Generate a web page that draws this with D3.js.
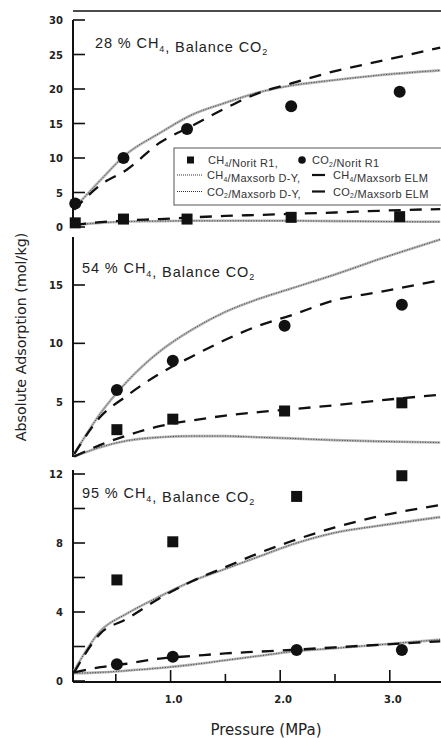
<!DOCTYPE html>
<html>
<head>
<meta charset="utf-8">
<script src="https://cdn.jsdelivr.net/npm/d3@7"></script>
<style>
  body { margin: 0; background: #fff; }
  svg { display: block; font-family: "Liberation Sans", Arial, sans-serif; }
  .tick-label { font-family: "DejaVu Sans", sans-serif; font-size: 10px; font-weight: bold; fill: #222; }
</style>
</head>
<body>
<svg width="441" height="738"></svg>
<script>
// pressure grid used for the model curves (MPa)
var pGrid = [0.12, 0.36, 0.6, 0.9, 1.2, 1.5, 1.8, 2.1, 2.5, 2.9, 3.46];

// 28 % CH4
var p28 = [0.13, 0.57, 1.15, 2.10, 3.09];
var ch4Norit28 = [0.6, 1.15, 1.15, 1.4, 1.5];
var co2Norit28 = [3.4, 10.0, 14.2, 17.5, 19.6];
var ch4Elm28 = [0.3, 0.7, 0.95, 1.15, 1.4, 1.6, 1.75, 1.9, 2.1, 2.35, 2.6];
var ch4Dy28 = [0.3, 0.6, 0.8, 0.85, 0.9, 0.9, 0.9, 0.9, 0.85, 0.8, 0.75];
var co2Elm28 = [2.5, 6.1, 8.3, 12.2, 14.7, 17.2, 19.4, 20.8, 22.6, 24.0, 26.0];
var co2Dy28 = [2.7, 6.8, 10.6, 13.6, 16.3, 18.0, 19.5, 20.5, 21.3, 22.0, 22.7];

// 54 % CH4
var p54 = [0.51, 1.02, 2.04, 3.11];
var ch4Norit54 = [2.6, 3.5, 4.2, 4.9];
var co2Norit54 = [6.0, 8.5, 11.5, 13.3];
var ch4Elm54 = [0.3, 1.3, 2.1, 2.9, 3.4, 3.8, 4.1, 4.35, 4.7, 5.1, 5.6];
var ch4Dy54 = [0.3, 1.1, 1.65, 1.95, 2.05, 2.05, 1.95, 1.85, 1.7, 1.6, 1.5];
var co2Elm54 = [0.5, 3.7, 5.5, 7.4, 8.9, 10.3, 11.5, 12.4, 13.7, 14.4, 15.4];
var co2Dy54 = [0.5, 4.0, 6.7, 9.3, 11.2, 12.7, 13.8, 14.7, 15.9, 17.2, 18.9];

// 95 % CH4
var p95 = [0.51, 1.02, 2.15, 3.11];
var ch4Norit95 = [5.86, 8.07, 10.7, 11.9];
var co2Norit95 = [0.97, 1.41, 1.8, 1.8];
var ch4Elm95 = [0.5, 2.76, 3.6, 4.8, 5.8, 6.6, 7.4, 8.1, 8.9, 9.55, 10.2];
var ch4Dy95 = [0.6, 2.9, 3.9, 4.9, 5.8, 6.5, 7.2, 7.9, 8.6, 9.0, 9.5];
var co2Elm95 = [0.5, 0.8, 1.0, 1.3, 1.45, 1.6, 1.7, 1.8, 1.95, 2.1, 2.3];
var co2Dy95 = [0.45, 0.5, 0.6, 0.75, 0.95, 1.2, 1.45, 1.7, 1.9, 2.1, 2.4];

var xTicksMajor = [1, 2, 3];
var xTicksMinor = [0.5, 1.5, 2.5];
var xTickLabels = ["1.0", "2.0", "3.0"];

var svg = d3.select("svg");
var x = d3.scaleLinear().domain([0, 3.5]).range([61, 444.6]);
var axisX = 73;

var panels = [
  { pct: "28", top: 20, bottom: 227, max: 30, axTop: 20, axBottom: 228,
    ticks: [0, 5, 10, 15, 20, 25, 30], labels: [0, 5, 10, 15, 20, 25, 30],
    titleX: 95, titleY: 48,
    pts: p28, ch4: ch4Norit28, co2: co2Norit28,
    ch4Elm: ch4Elm28, ch4Dy: ch4Dy28, co2Elm: co2Elm28, co2Dy: co2Dy28 },
  { pct: "54", top: 285, bottom: 460, max: 15, axTop: 237, axBottom: 457,
    ticks: [5, 10, 15], labels: [5, 10, 15],
    titleX: 82, titleY: 273,
    pts: p54, ch4: ch4Norit54, co2: co2Norit54,
    ch4Elm: ch4Elm54, ch4Dy: ch4Dy54, co2Elm: co2Elm54, co2Dy: co2Dy54 },
  { pct: "95", top: 474, bottom: 681, max: 12, axTop: 470, axBottom: 682,
    ticks: [0, 2, 4, 6, 8, 10, 12], labels: [0, 4, 8, 12],
    titleX: 82, titleY: 498,
    pts: p95, ch4: ch4Norit95, co2: co2Norit95,
    ch4Elm: ch4Elm95, ch4Dy: ch4Dy95, co2Elm: co2Elm95, co2Dy: co2Dy95 }
];

function subText(g, parts, size) {
  // parts: [text, subscript] pairs
  parts.forEach(function (pt) {
    g.append("tspan").text(pt[0]).attr("font-size", size).attr("dy", 0);
    if (pt[1]) {
      g.append("tspan").text(pt[1]).attr("font-size", size * 0.62).attr("dy", size * 0.25);
      g.append("tspan").text("").attr("dy", -size * 0.25);
    }
  });
}

function drawDy(g, line, vals) {
  g.append("path").datum(vals).attr("d", line)
    .attr("fill", "none").attr("stroke", "#b4b4b4").attr("stroke-width", 2.6);
  g.append("path").datum(vals).attr("d", line)
    .attr("fill", "none").attr("stroke", "#333").attr("stroke-width", 0.9)
    .attr("stroke-dasharray", "1,1.6");
}

function drawElm(g, line, vals) {
  g.append("path").datum(vals).attr("d", line)
    .attr("fill", "none").attr("stroke", "#111").attr("stroke-width", 2.3)
    .attr("stroke-dasharray", "12,9");
}

panels.forEach(function (pn) {
  var y = d3.scaleLinear().domain([0, pn.max]).range([pn.bottom, pn.top]);
  var g = svg.append("g");
  var line = d3.line()
    .x(function (d, i) { return x(pGrid[i]); })
    .y(function (d) { return y(d); })
    .curve(d3.curveMonotoneX);

  // left axis
  g.append("line").attr("x1", axisX).attr("x2", axisX)
    .attr("y1", pn.axTop).attr("y2", pn.axBottom)
    .attr("stroke", "#111").attr("stroke-width", 2);
  g.selectAll(".yt").data(pn.ticks).enter().append("line")
    .attr("x1", axisX).attr("x2", axisX + 12)
    .attr("y1", function (d) { return y(d); }).attr("y2", function (d) { return y(d); })
    .attr("stroke", "#111").attr("stroke-width", 1.6);
  g.selectAll(".yl").data(pn.labels).enter().append("text")
    .attr("class", "tick-label")
    .attr("x", 63).attr("y", function (d) { return y(d) + 4; })
    .attr("text-anchor", "end").text(function (d) { return d; });

  // title
  var t = g.append("text").attr("x", pn.titleX).attr("y", pn.titleY).attr("fill", "#222")
    .attr("letter-spacing", 0.9);
  subText(t, [[pn.pct + " % CH", "4"], [", Balance CO", "2"]], 14.5);

  // model curves
  drawDy(g, line, pn.ch4Dy);
  drawDy(g, line, pn.co2Dy);
  drawElm(g, line, pn.ch4Elm);
  drawElm(g, line, pn.co2Elm);

  // measurements
  g.selectAll(".sq").data(pn.ch4).enter().append("rect")
    .attr("x", function (d, i) { return x(pn.pts[i]) - 5.5; })
    .attr("y", function (d) { return y(d) - 5.5; })
    .attr("width", 11).attr("height", 11).attr("fill", "#111");
  g.selectAll(".ci").data(pn.co2).enter().append("circle")
    .attr("cx", function (d, i) { return x(pn.pts[i]); })
    .attr("cy", function (d) { return y(d); })
    .attr("r", 6).attr("fill", "#111");
});

// top frame line
svg.append("line").attr("x1", axisX).attr("x2", 441).attr("y1", 11).attr("y2", 11)
  .attr("stroke", "#111").attr("stroke-width", 1.6);

// bottom x axis
var xb = 682;
svg.append("line").attr("x1", axisX).attr("x2", 441).attr("y1", xb).attr("y2", xb)
  .attr("stroke", "#111").attr("stroke-width", 2);
svg.selectAll(".xM").data(xTicksMajor).enter().append("line")
  .attr("x1", function (d) { return x(d); }).attr("x2", function (d) { return x(d); })
  .attr("y1", xb).attr("y2", xb - 12).attr("stroke", "#111").attr("stroke-width", 1.6);
svg.selectAll(".xm").data(xTicksMinor).enter().append("line")
  .attr("x1", function (d) { return x(d); }).attr("x2", function (d) { return x(d); })
  .attr("y1", xb).attr("y2", xb - 8).attr("stroke", "#111").attr("stroke-width", 1.6);
svg.selectAll(".xl").data(xTicksMajor).enter().append("text")
  .attr("class", "tick-label")
  .attr("x", function (d) { return x(d) + 3; }).attr("y", 703)
  .attr("text-anchor", "middle").text(function (d, i) { return xTickLabels[i]; });

svg.append("text").attr("x", 266).attr("y", 735).attr("text-anchor", "middle")
  .attr("font-family", "DejaVu Sans, sans-serif").attr("font-size", 15).attr("fill", "#222")
  .text("Pressure (MPa)");
svg.append("text").attr("transform", "translate(26,337) rotate(-90)")
  .attr("text-anchor", "middle")
  .attr("font-family", "DejaVu Sans, sans-serif").attr("font-size", 14.3).attr("fill", "#222")
  .text("Absolute Adsorption (mol/kg)");

// legend
var lg = svg.append("g").attr("transform", "translate(174,148)");
lg.append("rect").attr("x", 0).attr("y", 0).attr("width", 290).attr("height", 57)
  .attr("fill", "#fff").attr("stroke", "#555").attr("stroke-width", 1);
var rows = [12, 27, 43.5];
var legFont = 11;
lg.append("rect").attr("x", 13).attr("y", rows[0] - 3.5).attr("width", 7).attr("height", 7).attr("fill", "#111");
lg.append("circle").attr("cx", 128).attr("cy", rows[0]).attr("r", 3.8).attr("fill", "#111");
function legLabel(xp, yp, parts) {
  var t = lg.append("text").attr("x", xp).attr("y", yp + 4).attr("fill", "#333")
    .attr("letter-spacing", 0.3);
  subText(t, parts, legFont);
}
legLabel(34, rows[0], [["CH", "4"], ["/Norit R1,", ""]]);
legLabel(138, rows[0], [["CO", "2"], ["/Norit R1", ""]]);
[1, 2].forEach(function (r) {
  var yy = rows[r];
  lg.append("line").attr("x1", 3).attr("x2", 29).attr("y1", yy).attr("y2", yy)
    .attr("stroke", "#333").attr("stroke-width", 1.2).attr("stroke-dasharray", "1,1");
  lg.append("line").attr("x1", 138).attr("x2", 151).attr("y1", yy).attr("y2", yy)
    .attr("stroke", "#111").attr("stroke-width", 2.2);
});
legLabel(33, rows[1], [["CH", "4"], ["/Maxsorb D-Y,", ""]]);
legLabel(159, rows[1], [["CH", "4"], ["/Maxsorb ELM", ""]]);
legLabel(33, rows[2], [["CO", "2"], ["/Maxsorb D-Y,", ""]]);
legLabel(159, rows[2], [["CO", "2"], ["/Maxsorb ELM", ""]]);
</script>
</body>
</html>
